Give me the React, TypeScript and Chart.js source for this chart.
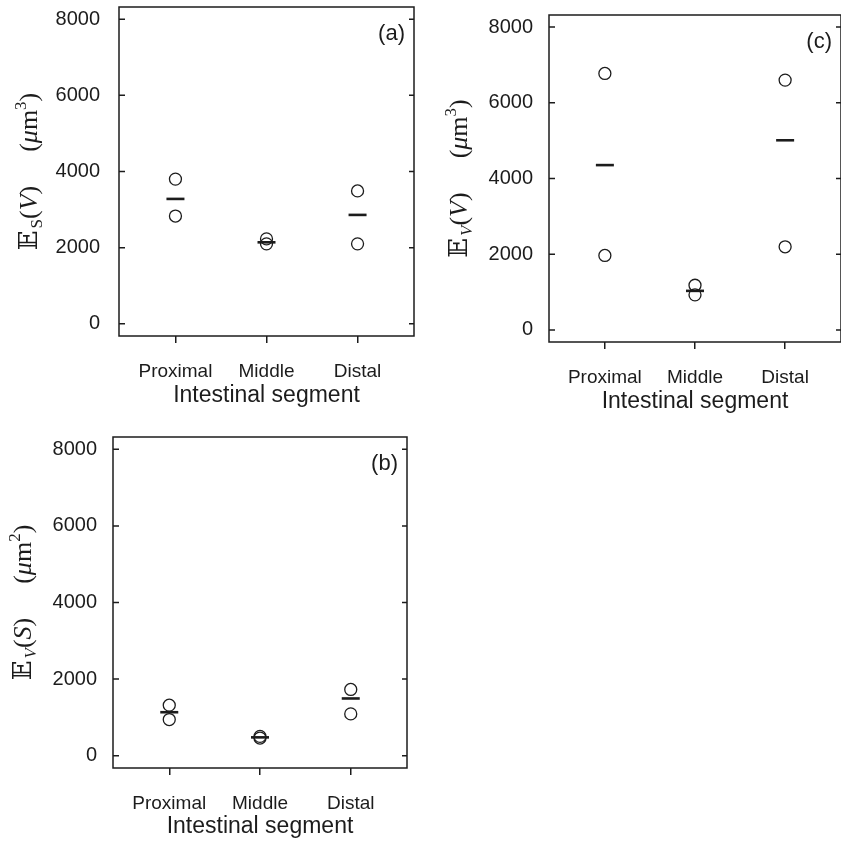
import React, { useEffect, useRef } from 'react';
import { Chart, registerables } from 'chart.js';

Chart.register(...registerables);

// ---------- data ----------
const categories = ['Proximal', 'Middle', 'Distal'];
const yTickValues = [0, 2000, 4000, 6000, 8000];
const xAxisTitle = 'Intestinal segment';

// panel (a): E_S(V)  (µm^3)
const aHigh = [3800, 2230, 3490];
const aLow = [2830, 2100, 2100];
const aMean = [3280, 2140, 2860];

// panel (c): E_V(V)  (µm^3)
const cHigh = [6775, 1180, 6600];
const cLow = [1967, 926, 2195];
const cMean = [4354, 1031, 5010];

// panel (b): E_V(S)  (µm^2)
const bHigh = [1320, 505, 1730];
const bLow = [944, 462, 1092];
const bMean = [1136, 480, 1495];

// ---------- style ----------
const INK = '#1c1c1c';
const SANS = '"Liberation Sans", Arial, Helvetica, sans-serif';
const SERIF = '"Liberation Serif", "Times New Roman", serif';
const DS = '"DejaVu Serif", "DejaVu Sans", serif';

type Seg = { t: string; size?: number; italic?: boolean; dy?: number; gap?: number; family?: string };

function yLabel(sub: string, subItalic: boolean, arg: string, power: string): Seg[] {
  return [
    { t: '\u{1D53C}', family: DS, size: 26 },
    { t: '', gap: 2 },
    { t: sub, size: 17, italic: subItalic, dy: 5 },
    { t: '(', size: 26 },
    { t: arg, size: 26, italic: true },
    { t: ')', size: 26 },
    { t: '', gap: 34 },
    { t: '(', size: 26 },
    { t: '\u03BC', size: 26, italic: true },
    { t: 'm', size: 26 },
    { t: power, size: 17, dy: -11 },
    { t: ')', size: 26 },
  ];
}

type Panel = {
  tag: string;
  canvas: { left: number; top: number; width: number; height: number };
  area: { left: number; top: number; right: number; bottom: number };
  high: number[];
  low: number[];
  mean: number[];
  ylabel: Seg[];
  titlePad: number;
  tickPad: number;
};

const panels: Panel[] = [
  {
    tag: '(a)',
    canvas: { left: 0, top: 0, width: 420, height: 420 },
    area: { left: 119, top: 7, right: 414, bottom: 336 },
    high: aHigh, low: aLow, mean: aMean,
    ylabel: yLabel('S', false, 'V', '3'),
    titlePad: 11,
    tickPad: 19,
  },
  {
    tag: '(c)',
    canvas: { left: 420, top: 0, width: 425, height: 420 },
    area: { left: 129, top: 15, right: 421, bottom: 342 },
    high: cHigh, low: cLow, mean: cMean,
    ylabel: yLabel('V', true, 'V', '3'),
    titlePad: 5,
    tickPad: 16,
  },
  {
    tag: '(b)',
    canvas: { left: 0, top: 420, width: 420, height: 423 },
    area: { left: 113, top: 17, right: 407, bottom: 348 },
    high: bHigh, low: bLow, mean: bMean,
    ylabel: yLabel('V', true, 'S', '2'),
    titlePad: 3,
    tickPad: 16,
  },
];

function drawRich(ctx: CanvasRenderingContext2D, segs: Seg[], cx: number, cy: number) {
  const fontOf = (s: Seg) => `${s.italic ? 'italic ' : ''}${s.size ?? 26}px ${s.family ?? SERIF}`;
  ctx.save();
  ctx.translate(cx, cy);
  ctx.rotate(-Math.PI / 2);
  let total = 0;
  for (const s of segs) {
    if (s.gap) { total += s.gap; continue; }
    ctx.font = fontOf(s);
    total += ctx.measureText(s.t).width;
  }
  let x = -total / 2;
  ctx.textAlign = 'left';
  ctx.textBaseline = 'alphabetic';
  ctx.fillStyle = INK;
  for (const s of segs) {
    if (s.gap) { x += s.gap; continue; }
    ctx.font = fontOf(s);
    ctx.fillText(s.t, x, 9 + (s.dy ?? 0));
    x += ctx.measureText(s.t).width;
  }
  ctx.restore();
}

function makeFramePlugin(p: Panel) {
  return {
    id: 'frame' + p.tag,
    afterDraw(chart: any) {
      const { ctx, chartArea: a, scales } = chart;
      ctx.save();
      ctx.strokeStyle = INK;
      ctx.lineWidth = 1.5;
      ctx.strokeRect(a.left, a.top, a.right - a.left, a.bottom - a.top);
      ctx.beginPath();
      for (const v of yTickValues) {
        const y = scales.y.getPixelForValue(v);
        ctx.moveTo(a.left, y);
        ctx.lineTo(a.left + 6, y);
        ctx.moveTo(a.right, y);
        ctx.lineTo(a.right - 5, y);
      }
      ctx.stroke();
      ctx.fillStyle = INK;
      ctx.font = `22px ${SANS}`;
      ctx.textAlign = 'right';
      ctx.textBaseline = 'middle';
      ctx.fillText(p.tag, a.right - 9, a.top + 27);
      ctx.restore();
      drawRich(ctx, p.ylabel, a.left - 91, (a.top + a.bottom) / 2);
    },
  };
}

function PanelChart({ p }: { p: Panel }) {
  const ref = useRef<HTMLCanvasElement | null>(null);
  useEffect(() => {
    if (!ref.current) return;
    const { width: cw, height: ch } = p.canvas;
    const area = p.area;
    const toPts = (arr: number[]) => arr.map((v, i) => ({ x: i + 1, y: v }));
    const circle = {
      pointStyle: 'circle',
      radius: 6,
      borderWidth: 1.3,
      borderColor: INK,
      backgroundColor: 'rgba(0,0,0,0)',
    };
    const chart = new Chart(ref.current, {
      type: 'scatter',
      data: {
        datasets: [
          { label: 'high', data: toPts(p.high), ...circle } as any,
          { label: 'low', data: toPts(p.low), ...circle } as any,
          {
            label: 'mean',
            data: toPts(p.mean),
            pointStyle: 'line',
            radius: 9,
            borderWidth: 2.6,
            borderColor: INK,
            backgroundColor: INK,
          } as any,
        ],
      },
      options: {
        responsive: false,
        animation: false,
        events: [],
        layout: {
          autoPadding: false,
          padding: { left: 0, top: area.top, right: cw - area.right, bottom: 0 },
        },
        plugins: { legend: { display: false }, tooltip: { enabled: false } },
        scales: {
          x: {
            type: 'linear',
            min: 0.38,
            max: 3.62,
            afterBuildTicks: (s: any) => {
              s.ticks = categories.map((_, i) => ({ value: i + 1 }));
            },
            afterFit: (s: any) => {
              s.height = ch - area.bottom;
              s.paddingLeft = 0;
              s.paddingRight = 0;
            },
            ticks: {
              callback: (v: any) => categories[Math.round(Number(v)) - 1] ?? '',
              font: { family: SANS, size: 19 },
              color: INK,
              padding: 17,
              autoSkip: false,
              maxRotation: 0,
              minRotation: 0,
            },
            grid: {
              display: true,
              drawOnChartArea: false,
              drawTicks: true,
              tickLength: 7,
              color: INK,
              lineWidth: 1.5,
            },
            border: { display: false },
            title: {
              display: true,
              text: xAxisTitle,
              font: { family: SANS, size: 23 },
              color: INK,
              padding: { top: 0, bottom: p.titlePad },
            },
          },
          y: {
            type: 'linear',
            min: -320,
            max: 8320,
            afterBuildTicks: (s: any) => {
              s.ticks = yTickValues.map((v) => ({ value: v }));
            },
            afterFit: (s: any) => {
              s.width = area.left;
              s.paddingTop = 0;
              s.paddingBottom = 0;
            },
            ticks: {
              callback: (v: any) => String(v),
              font: { family: SANS, size: 20 },
              color: INK,
              padding: p.tickPad,
            },
            grid: { display: false, drawTicks: false },
            border: { display: false },
          },
        },
      } as any,
      plugins: [makeFramePlugin(p)],
    });
    return () => chart.destroy();
  }, [p]);
  return (
    <canvas
      ref={ref}
      width={p.canvas.width}
      height={p.canvas.height}
      style={{
        position: 'absolute',
        left: p.canvas.left,
        top: p.canvas.top,
        width: p.canvas.width,
        height: p.canvas.height,
      }}
    />
  );
}

export default function App() {
  return (
    <div
      style={{
        position: 'fixed',
        left: 0,
        top: 0,
        width: 841,
        height: 843,
        overflow: 'hidden',
        background: '#ffffff',
      }}
    >
      {panels.map((p) => (
        <PanelChart key={p.tag} p={p} />
      ))}
    </div>
  );
}
